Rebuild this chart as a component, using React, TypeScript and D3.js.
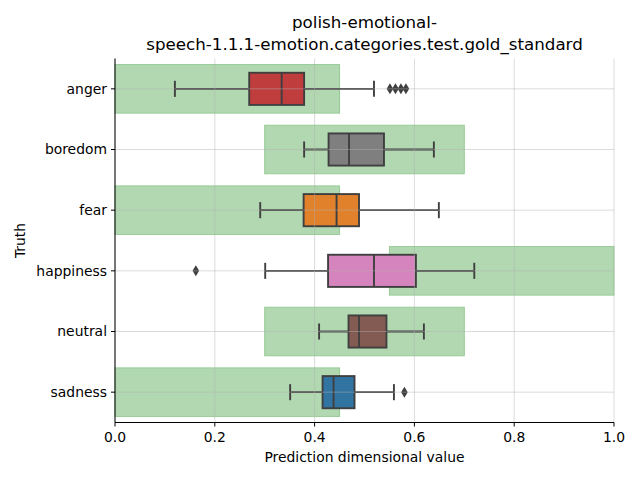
import React from "react";
import * as d3 from "d3";

const categories = ["anger", "boredom", "fear", "happiness", "neutral", "sadness"];
const goldLow = [0, 0.3, 0, 0.55, 0.3, 0];
const goldHigh = [0.45, 0.7, 0.45, 1.0, 0.7, 0.45];
const whiskerLow = [0.12, 0.379, 0.291, 0.301, 0.409, 0.351];
const q1 = [0.269, 0.428, 0.378, 0.427, 0.468, 0.416];
const median = [0.334, 0.469, 0.444, 0.519, 0.489, 0.438];
const q3 = [0.379, 0.539, 0.489, 0.603, 0.544, 0.48];
const whiskerHigh = [0.519, 0.639, 0.649, 0.72, 0.619, 0.559];
const outliers = [[0.551, 0.562, 0.573, 0.583], [], [], [0.162], [], [0.58]];
const colors = ["#c03d3e", "#7f7f7f", "#e1812c", "#d684bd", "#845b53", "#3274a1"];
const xTicks = [0, 0.2, 0.4, 0.6, 0.8, 1.0];

const W = 640, H = 480;
const left = 115, right = 614, top = 58.5, bottom = 422.5;

export default function App() {
  const x = d3.scaleLinear().domain([0, 1]).range([left, right]);
  const y = d3.scaleBand().domain(categories).range([top, bottom]).padding(0);
  const bw = y.bandwidth();
  const goldH = bw * 0.8;
  const boxH = bw * 0.53;
  const lineC = "#3f3f3f";
  const lw = 1.9;
  const font = "DejaVu Sans, sans-serif";
  const grid = "rgba(176,176,176,0.45)";
  return (
    <svg width={W} height={H} style={{ position: "absolute", left: 0, top: 0 }} fontFamily={font}>
      <rect width={W} height={H} fill="white" />
      {categories.map((c, i) => {
        const cy = y(c)! + bw / 2;
        return (
          <rect key={"g" + c} x={x(goldLow[i])} y={cy - goldH / 2} width={x(goldHigh[i]) - x(goldLow[i])} height={goldH}
            fill="rgb(178,216,178)" stroke="rgb(150,204,150)" strokeWidth={1} />
        );
      })}
      {categories.map((c, i) => {
        const cy = y(c)! + bw / 2;
        const capH = boxH / 2;
        return (
          <g key={"b" + c}>
            <line x1={x(whiskerLow[i])} x2={x(q1[i])} y1={cy} y2={cy} stroke={lineC} strokeWidth={lw} />
            <line x1={x(q3[i])} x2={x(whiskerHigh[i])} y1={cy} y2={cy} stroke={lineC} strokeWidth={lw} />
            <line x1={x(whiskerLow[i])} x2={x(whiskerLow[i])} y1={cy - capH / 2} y2={cy + capH / 2} stroke={lineC} strokeWidth={lw} />
            <line x1={x(whiskerHigh[i])} x2={x(whiskerHigh[i])} y1={cy - capH / 2} y2={cy + capH / 2} stroke={lineC} strokeWidth={lw} />
            <rect x={x(q1[i])} y={cy - boxH / 2} width={x(q3[i]) - x(q1[i])} height={boxH} fill={colors[i]} stroke={lineC} strokeWidth={lw} />
            <line x1={x(median[i])} x2={x(median[i])} y1={cy - boxH / 2} y2={cy + boxH / 2} stroke={lineC} strokeWidth={lw} />
            {outliers[i].map((o, j) => (
              <path key={j} d={`M${x(o)},${cy - 5.5} L${x(o) + 3.3},${cy} L${x(o)},${cy + 5.5} L${x(o) - 3.3},${cy} Z`} fill={lineC} />
            ))}
          </g>
        );
      })}
      {xTicks.map((t) => (
        <line key={"gx" + t} x1={x(t)} x2={x(t)} y1={top} y2={bottom} stroke={grid} strokeWidth={1} />
      ))}
      {categories.map((c) => (
        <line key={"gy" + c} x1={left} x2={right} y1={y(c)! + bw / 2} y2={y(c)! + bw / 2} stroke={grid} strokeWidth={1} />
      ))}
      <line x1={left} x2={left} y1={top} y2={bottom} stroke="black" strokeWidth={1} />
      <line x1={left} x2={right} y1={bottom} y2={bottom} stroke="black" strokeWidth={1} />
      {xTicks.map((t) => (
        <g key={"xt" + t}>
          <line x1={x(t)} x2={x(t)} y1={bottom} y2={bottom + 4} stroke="black" />
          <text x={x(t)} y={bottom + 19} textAnchor="middle" fontSize={13.9} fill="black">{t.toFixed(1)}</text>
        </g>
      ))}
      {categories.map((c) => (
        <g key={"yt" + c}>
          <line x1={left - 4} x2={left} y1={y(c)! + bw / 2} y2={y(c)! + bw / 2} stroke="black" />
          <text x={left - 8} y={y(c)! + bw / 2} dy="0.35em" textAnchor="end" fontSize={13.9} fill="black">{c}</text>
        </g>
      ))}
      <text x={(left + right) / 2} y={462} textAnchor="middle" fontSize={13.9} fill="black">Prediction dimensional value</text>
      <text transform={`translate(25,${(top + bottom) / 2}) rotate(-90)`} textAnchor="middle" fontSize={13.9} fill="black">Truth</text>
      <text x={(left + right) / 2} y={28} textAnchor="middle" fontSize={16.7} fill="black">polish-emotional-</text>
      <text x={(left + right) / 2} y={50} textAnchor="middle" fontSize={16.7} fill="black">speech-1.1.1-emotion.categories.test.gold_standard</text>
    </svg>
  );
}
